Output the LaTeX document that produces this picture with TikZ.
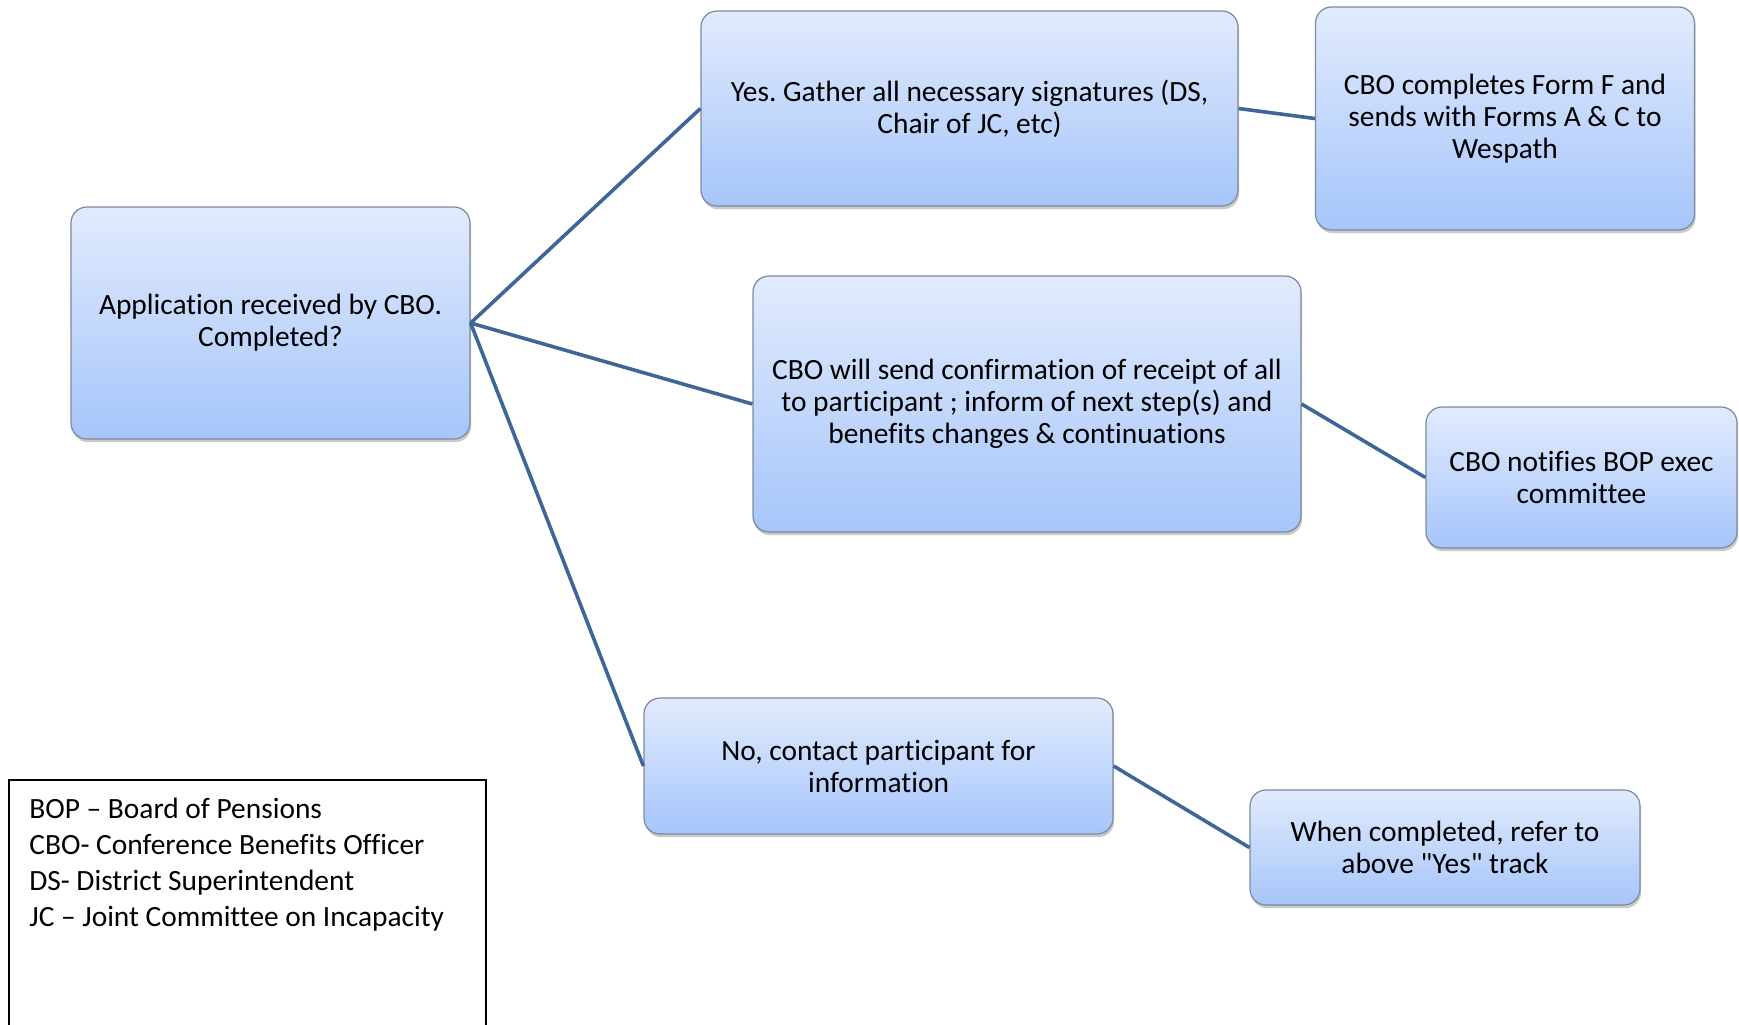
\documentclass[tikz,border=0pt]{standalone}
\usepackage{fontspec}
\setmainfont[Ligatures={NoCommon,TeXOff}]{Carlito}
\usepackage{xcolor}
\usetikzlibrary{shadows}
\frenchspacing

\definecolor{boxtop}{HTML}{E1EBFD}
\definecolor{boxbot}{HTML}{A6C5FA}
\definecolor{boxrim}{HTML}{7D8A9C}
\definecolor{linkblue}{HTML}{3F6699}

\begin{document}
\begin{tikzpicture}[x=0.5pt,y=-0.5pt]
\tikzset{stepbox/.style={draw=boxrim,line width=0.6pt,rounded corners=8pt,top color=boxtop,bottom color=boxbot,
  align=center,inner sep=0pt,font=\fontsize{14.7}{16}\selectfont,
  drop shadow={shadow xshift=0.6pt,shadow yshift=-1.6pt,opacity=0.35,fill=black!60}}}
\tikzset{link/.style={draw=linkblue,line width=1.8pt}}

\useasboundingbox (0,0) rectangle (1739,1024);

\node[stepbox,minimum width=199.5pt,minimum height=116pt] (apply) at (270.5,323) {Application received by CBO.\\Completed?};
\node[stepbox,minimum width=268.5pt,minimum height=97.5pt] (yes) at (969.5,108.5) {Yes. Gather all necessary signatures (DS,\\Chair of JC, etc)};
\node[stepbox,minimum width=189.5pt,minimum height=111.5pt] (formf) at (1505,118.5) {CBO completes Form F and\\sends with Forms A \& C to\\Wespath};
\node[stepbox,minimum width=274pt,minimum height=128pt] (confirm) at (1027,404) {CBO will send confirmation of receipt of all\\to participant ; inform of next step(s) and\\benefits changes \& continuations};
\node[stepbox,minimum width=155.5pt,minimum height=70.5pt] (notify) at (1581.5,477.5) {CBO notifies BOP exec\\committee};
\node[stepbox,minimum width=234.5pt,minimum height=68pt] (no) at (878.5,766) {No, contact participant for\\information};
\node[stepbox,minimum width=195pt,minimum height=57.5pt] (refer) at (1445,847.5) {When completed, refer to\\above "Yes" track};

\draw[link] (apply.east) -- (yes.west);
\draw[link] (apply.east) -- (confirm.west);
\draw[link] (apply.east) -- (no.west);
\draw[link] (yes.east) -- (formf.west);
\draw[link] (confirm.east) -- (notify.west);
\draw[link] (no.east) -- (refer.west);

% legend
\node[draw=black,line width=0.8pt,anchor=north west,minimum width=238.5pt,minimum height=140pt,inner sep=0pt] (legend) at (8,779) {};
\node[anchor=north west,align=left,inner sep=0pt,font=\fontsize{14.7}{18}\selectfont] (legendtext) at ([xshift=10.5pt,yshift=-9.5pt]legend.north west)
  {BOP – Board of Pensions\\CBO- Conference Benefits Officer\\DS- District Superintendent\\JC – Joint Committee on Incapacity};

\end{tikzpicture}
\end{document}
